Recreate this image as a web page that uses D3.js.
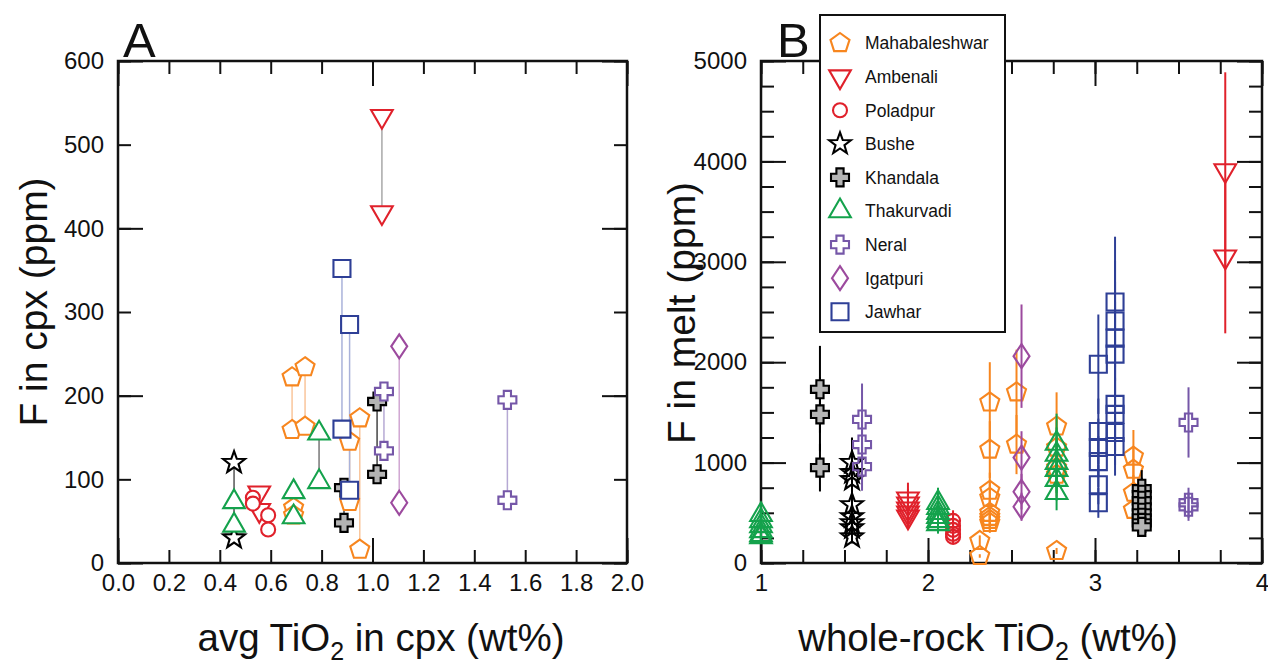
<!DOCTYPE html>
<html>
<head>
<meta charset="utf-8">
<script src="https://cdn.jsdelivr.net/npm/d3@7"></script>
<style>
  body { margin: 0; background: #fff; }
  text { font-family: "Liberation Sans", Arial, sans-serif; }
</style>
</head>
<body>
<div id="chart"></div>
<script>
const width = 1268, height = 665;

// ---- data ----
const seriesNames = ["Mahabaleshwar", "Ambenali", "Poladpur", "Bushe", "Khandala",
                     "Thakurvadi", "Neral", "Igatpuri", "Jawhar"];

// Panel A: [avg TiO2 in cpx (wt%), F high (ppm), F low (ppm)]
const mahabA = [[0.684, 222, 159], [0.735, 234, 163], [0.69, 66, 57], [0.91, 145, 73], [0.95, 173, 16]];
const ambenA = [[0.555, 84, 63], [1.037, 534, 419]];
const poladA = [[0.53, 78, 71], [0.59, 57, 40]];
const busheA = [[0.456, 120, 30]];
const khandA = [[0.888, 90, 48], [1.018, 193, 106]];
const thakA  = [[0.456, 73, 45], [0.69, 85, 55], [0.79, 155, 97]];
const neralA = [[1.045, 205, 134], [1.53, 195, 75]];
const igatA  = [[1.105, 259, 72]];
const jawA   = [[0.88, 352, 160], [0.91, 285, 87]];

// Panel B: [whole-rock TiO2 (wt%), [F in melt (ppm) ...]]
const mahabB = [[2.31, [220, 70]], [2.37, [1600, 1130, 720, 650, 500, 460, 430, 400]],
                [2.53, [1700, 1180]], [2.77, [1360, 1150, 950, 880, 120]], [3.23, [1060, 930, 700, 530]]];
const ambenB = [[1.88, [640, 590, 540, 500, 460]], [3.78, [3910, 3050]]];
const poladB = [[2.15, [420, 370, 330, 290, 260]]];
const busheB = [[1.545, [1000, 900, 830, 580, 460, 400, 350, 260]]];
const khandB = [[1.353, [1730, 1480, 950]], [3.28, [740, 680, 620, 560, 500, 450, 400, 360]]];
const thakB  = [[1.0, [480, 420, 370, 320, 280, 260]], [2.06, [600, 550, 500, 460, 420, 390]],
                [2.77, [1190, 1080, 1000, 930, 830, 700]]];
const neralB = [[1.605, [1430, 1180, 960]], [3.56, [1400, 600, 560]]];
const igatB  = [[2.56, [2060, 1050, 710, 560]]];
const jawB   = [[3.02, [1980, 1310, 1150, 1010, 780, 600]],
                [3.12, [2600, 2410, 2240, 2080, 1580, 1480, 1300, 1160]]];

const errFrac = 0.25; // relative uncertainty shown by the error bars in B

const panelA = [mahabA, ambenA, poladA, busheA, khandA, thakA, neralA, igatA, jawA];
const panelB = [mahabB, ambenB, poladB, busheB, khandB, thakB, neralB, igatB, jawB];

// ---- styles ----
function poly(pts) { return "M" + pts.map(p => p[0].toFixed(2) + "," + p[1].toFixed(2)).join("L") + "Z"; }
function regular(n, r, rot) {
    return d3.range(n).map(i => { const a = rot + i * 2 * Math.PI / n; return [r * Math.cos(a), r * Math.sin(a)]; });
}
const shapes = {
    pentagon: poly(regular(5, 10, -Math.PI / 2)),
    triDown: poly(regular(3, 12.5, Math.PI / 2)),
    circle: "M7,0A7,7 0 1,1 -7,0A7,7 0 1,1 7,0Z",
    star: poly(d3.range(10).map(i => {
        const r = i % 2 ? 4.7 : 11.5, a = -Math.PI / 2 + i * Math.PI / 5;
        return [r * Math.cos(a), r * Math.sin(a)];
    })),
    cross: poly([[-3.6,-9],[3.6,-9],[3.6,-3.6],[9,-3.6],[9,3.6],[3.6,3.6],[3.6,9],[-3.6,9],[-3.6,3.6],[-9,3.6],[-9,-3.6],[-3.6,-3.6]]),
    triUp: poly(regular(3, 12.5, -Math.PI / 2)),
    diamond: poly([[0,-12],[8,0],[0,12],[-8,0]]),
    square: poly([[-8.5,-8.5],[8.5,-8.5],[8.5,8.5],[-8.5,8.5]])
};
const styles = [
    { shape: "pentagon", color: "#f7861f", fill: null, link: "#f9c59b" },
    { shape: "triDown",  color: "#e0212b", fill: null, link: "#a8a8a8" },
    { shape: "circle",   color: "#e0212b", fill: null, link: "#a8a8a8" },
    { shape: "star",     color: "#000",    fill: null, link: "#555" },
    { shape: "cross",    color: "#000",    fill: "#b4b4b4", link: "#444" },
    { shape: "triUp",    color: "#14a24c", fill: null, link: "#777" },
    { shape: "cross",    color: "#7557a8", fill: null, link: "#b6a9d4" },
    { shape: "diamond",  color: "#9c4a9e", fill: null, link: "#d0a6d2" },
    { shape: "square",   color: "#2e3f96", fill: null, link: "#a9b2da" }
];

const svg = d3.select("#chart").append("svg")
    .attr("width", width).attr("height", height)
    .attr("viewBox", [0, 0, width, height]);

const xA = d3.scaleLinear().domain([0, 2]).range([118, 627]);
const yA = d3.scaleLinear().domain([0, 600]).range([563, 61]);
const xB = d3.scaleLinear().domain([1, 4]).range([761, 1262]);
const yB = d3.scaleLinear().domain([0, 5000]).range([563, 61]);

// ticks on all four sides, pointing inward
function drawAxes(x, y, o) {
    const [x0, x1] = x.range(), [y0, y1] = y.range();
    const g = svg.append("g");
    const tickSets = [[o.xShort, o.yShort, 13], [o.xLong, o.yLong, 25]];
    tickSets.forEach(([xv, yv, len]) => {
        g.append("g").attr("transform", `translate(0,${y0})`).call(d3.axisBottom(x).tickValues(xv).tickSize(-len).tickFormat(""));
        g.append("g").attr("transform", `translate(0,${y1})`).call(d3.axisTop(x).tickValues(xv).tickSize(-len).tickFormat(""));
        g.append("g").attr("transform", `translate(${x0},0)`).call(d3.axisLeft(y).tickValues(yv).tickSize(-len).tickFormat(""));
        g.append("g").attr("transform", `translate(${x1},0)`).call(d3.axisRight(y).tickValues(yv).tickSize(-len).tickFormat(""));
    });
    g.append("g").attr("transform", `translate(0,${y0})`)
        .call(d3.axisBottom(x).tickValues(o.xLab).tickFormat(o.xFmt).tickSize(0).tickPadding(11));
    g.append("g").attr("transform", `translate(${x0},0)`)
        .call(d3.axisLeft(y).tickValues(o.yLab).tickFormat(o.yFmt).tickSize(0).tickPadding(14));
    g.selectAll(".domain").remove();
    g.selectAll(".tick line").attr("stroke", "#111").attr("stroke-width", 2);
    g.selectAll("g").attr("font-size", 24).attr("font-family", "'Liberation Sans Narrow', 'Liberation Sans', Arial, sans-serif");
    g.selectAll(".tick text").attr("fill", "#111");
    svg.append("rect").attr("x", x0).attr("y", y1).attr("width", x1 - x0).attr("height", y0 - y1)
        .attr("fill", "none").attr("stroke", "#111").attr("stroke-width", 2.5);
}

drawAxes(xA, yA, {
    xShort: d3.range(0, 2.001, 0.2), xLong: [0, 1, 2],
    yShort: d3.range(0, 601, 100), yLong: [0, 200, 400, 600],
    xLab: d3.range(0, 2.001, 0.2), yLab: d3.range(0, 601, 100),
    xFmt: d3.format(".1f"), yFmt: d3.format("d")
});
drawAxes(xB, yB, {
    xShort: d3.range(1, 4.001, 0.25), xLong: [1, 2, 3, 4],
    yShort: d3.range(0, 5001, 250), yLong: d3.range(0, 5001, 1000),
    xLab: [1, 2, 3, 4], yLab: d3.range(0, 5001, 1000),
    xFmt: d3.format("d"), yFmt: d3.format("d")
});

function marker(g, st, x, y, fill) {
    g.append("path").attr("d", shapes[st.shape])
        .attr("transform", `translate(${x},${y})`)
        .attr("fill", st.fill || fill)
        .attr("stroke", st.color).attr("stroke-width", 2.1).attr("stroke-linejoin", "miter");
}

// Panel A: paired values joined by a thin line
const gA = svg.append("g");
panelA.forEach((rows, i) => {
    rows.forEach(([x, hi, lo]) => {
        gA.append("line").attr("x1", xA(x)).attr("x2", xA(x)).attr("y1", yA(hi)).attr("y2", yA(lo))
            .attr("stroke", styles[i].link).attr("stroke-width", 1.5);
    });
});
panelA.forEach((rows, i) => {
    rows.forEach(([x, hi, lo]) => {
        marker(gA, styles[i], xA(x), yA(hi), "#fff");
        marker(gA, styles[i], xA(x), yA(lo), "#fff");
    });
});

// Panel B: F in melt with error bars
const gB = svg.append("g");
panelB.forEach((cols, i) => {
    const st = styles[i];
    cols.forEach(([x, ys]) => {
        ys.forEach(v => {
            gB.append("line").attr("x1", xB(x)).attr("x2", xB(x))
                .attr("y1", yB(v * (1 + errFrac))).attr("y2", yB(v * (1 - errFrac)))
                .attr("stroke", st.color).attr("stroke-width", 2);
        });
        ys.forEach(v => marker(gB, st, xB(x), yB(v), "none"));
    });
});

// legend
const leg = svg.append("g");
leg.append("rect").attr("x", 820).attr("y", 15).attr("width", 185).attr("height", 317)
    .attr("fill", "#fff").attr("stroke", "#111").attr("stroke-width", 2);
seriesNames.forEach((name, i) => {
    const cy = 43 + i * 33.6;
    marker(leg, styles[i], 840, cy, "#fff");
    leg.append("text").attr("x", 865).attr("y", cy).attr("dy", "0.36em")
        .attr("font-size", 17.5).attr("fill", "#111").text(name);
});

// panel letters
svg.append("text").attr("x", 123).attr("y", 57).attr("font-size", 49).attr("fill", "#111").text("A");
svg.append("text").attr("x", 777).attr("y", 57).attr("font-size", 49).attr("fill", "#111").text("B");

// axis titles
function xTitle(cx, pre, post) {
    const t = svg.append("text").attr("x", cx).attr("y", 651).attr("text-anchor", "middle")
        .attr("font-size", 38.5).attr("fill", "#111");
    t.append("tspan").text(pre);
    t.append("tspan").attr("font-size", 25).attr("dy", 9).text("2");
    t.append("tspan").attr("dy", -9).text(post);
}
xTitle(381, "avg TiO", " in cpx (wt%)");
xTitle(988, "whole-rock TiO", " (wt%)");

function yTitle(bx, cy, label) {
    svg.append("text").attr("transform", `translate(${bx},${cy}) rotate(-90)`)
        .attr("text-anchor", "middle").attr("font-size", 39).attr("fill", "#111").text(label);
}
yTitle(47, 302, "F in cpx (ppm)");
yTitle(695, 313, "F in melt (ppm)");
</script>
</body>
</html>
